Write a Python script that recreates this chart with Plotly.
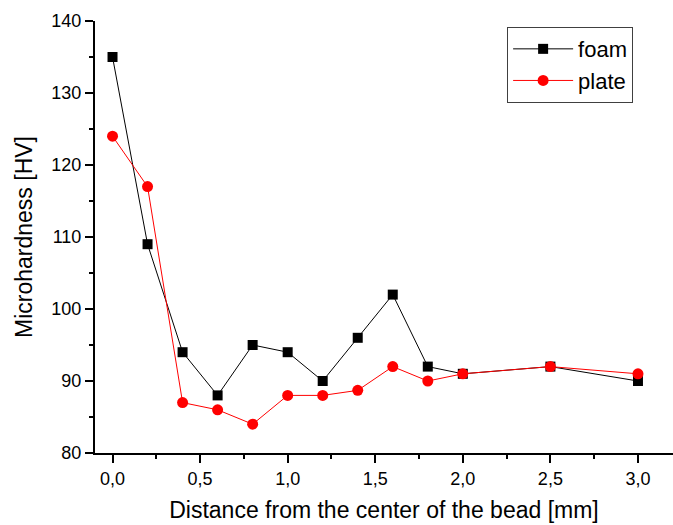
import plotly.graph_objects as go

distance = [0.0, 0.2, 0.4, 0.6, 0.8, 1.0, 1.2, 1.4, 1.6, 1.8, 2.0, 2.5, 3.0]
foam = [135, 109, 94, 88, 95, 94, 90, 96, 102, 92, 91, 92, 90]
plate = [124, 117, 87, 86, 84, 88, 88, 88.7, 92, 90, 91, 92, 91]

FONT = "Liberation Sans, Arial, sans-serif"

fig = go.Figure()
fig.add_trace(go.Scatter(
    x=distance, y=foam, name="foam", mode="lines+markers",
    line=dict(color="black", width=1),
    marker=dict(symbol="square", size=10, color="black"),
))
fig.add_trace(go.Scatter(
    x=distance, y=plate, name="plate", mode="lines+markers",
    line=dict(color="red", width=1),
    marker=dict(symbol="circle", size=11, color="red"),
))

axis_common = dict(
    showline=True, linecolor="black", linewidth=2,
    showgrid=False, zeroline=False, automargin=False,
    ticks="outside", ticklen=8, tickwidth=1.5, tickcolor="black",
    tickfont=dict(family=FONT, size=18, color="black"),
    mirror=False,
)

fig.update_layout(
    width=673, height=525,
    margin=dict(l=95, r=0, t=21, b=72),
    paper_bgcolor="white", plot_bgcolor="white",
    separators=",.",
    showlegend=True,
    legend=dict(
        x=0.713, y=0.986, xanchor="left", yanchor="top",
        bordercolor="#404040", borderwidth=1,
        font=dict(family=FONT, size=22, color="black"),
        bgcolor="white", itemwidth=60,
    ),
    xaxis=dict(
        range=[-0.1, 3.2], tick0=0, dtick=0.5, tickformat=".1f",
        minor=dict(ticks="outside", ticklen=4, tickwidth=1.5, dtick=0.25, tickcolor="black"),
        title=dict(text="Distance from the center of the bead [mm]",
                   font=dict(family=FONT, size=23, color="black"), standoff=14),
        **axis_common,
    ),
    yaxis=dict(
        range=[80, 140], tick0=80, dtick=10,
        minor=dict(ticks="outside", ticklen=4, tickwidth=1.5, dtick=5, tickcolor="black"),
        title=dict(text="Microhardness [HV]",
                   font=dict(family=FONT, size=23, color="black"), standoff=12),
        **axis_common,
    ),
)

fig.write_html(
    "out.html",
    config={"displayModeBar": False},
    post_script="document.body.style.margin='0';document.body.style.padding='0';document.body.style.overflow='hidden';",
)
